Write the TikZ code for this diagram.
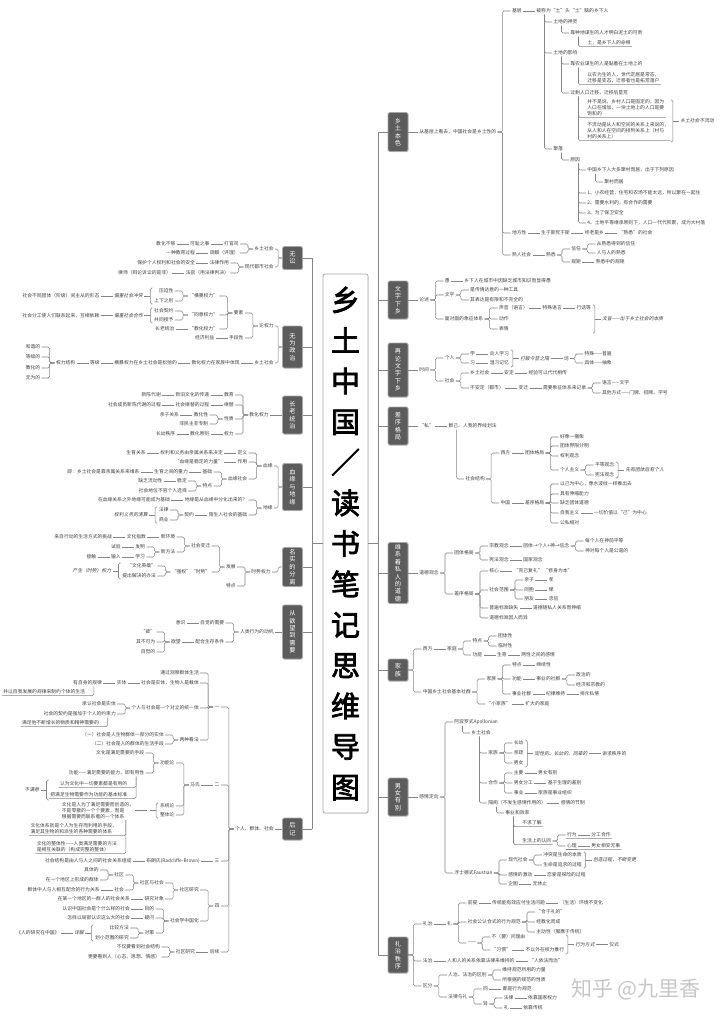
\documentclass[tikz,border=0pt]{standalone}
\usepackage{fontspec}
\setmainfont{Noto Sans CJK SC}
\newfontfamily\slf{Noto Sans CJK SC}[FakeSlant=0.2]
\newfontfamily\tfont{Noto Sans CJK SC}[FakeBold=2.5]
\usetikzlibrary{positioning,calc,shadows}
\definecolor{txt}{HTML}{404040}
\definecolor{lnc}{HTML}{858585}
\definecolor{cbf}{HTML}{5C5C5C}
\definecolor{cbd}{HTML}{A8A8A8}
\newcommand{\ft}{\fontsize{4.8}{5.9}\selectfont}
\tikzset{
 lnk/.style={draw=lnc,line width=0.55pt,rounded corners=1.5pt},
 tR/.style={anchor=west,font=\ft,text=txt,inner sep=1.2pt},
 tL/.style={anchor=east,font=\ft,text=txt,inner sep=1.2pt},
 tI/.style={font=\ft\slf},
 tP/.style={align=left,font=\fontsize{4.8}{6}\selectfont},
 cbox/.style={draw=cbd,line width=0.8pt,fill=cbf,rounded corners=1.5pt,text=white,font=\fontsize{6.2}{7.4}\selectfont,align=center,inner sep=0pt,minimum width=20pt,drop shadow={opacity=0.25,shadow xshift=0.7pt,shadow yshift=-0.7pt}},
}
% right-side child via bracket
\newcommand{\kR}[5][]{\path (#3.east) ++(13,0) coordinate (tmp); \node[tR,#1] (#2) at (tmp |- 0,#4) {#5}; \draw[lnk] (#3.east) -- ++(5,0) |- (#2.west);}
\newcommand{\kL}[5][]{\path (#3.west) ++(-13,0) coordinate (tmp); \node[tL,#1] (#2) at (tmp |- 0,#4) {#5}; \draw[lnk] (#3.west) -- ++(-5,0) |- (#2.east);}
% chains
\newcommand{\chR}[4][]{\node[tR,#1,right=12pt of #3] (#2) {#4}; \draw[lnk] (#3.east) -- (#2.west);}
\newcommand{\chL}[4][]{\node[tL,#1,left=12pt of #3] (#2) {#4}; \draw[lnk] (#3.west) -- (#2.east);}
% hanging children
\newcommand{\hR}[5][]{\path (#3.south west) ++(17,0) coordinate (tmp); \node[tR,#1] (#2) at (tmp |- 0,#4) {#5}; \draw[lnk] ([xshift=9.5pt]#3.south west) |- (#2.west);}
\newcommand{\hRU}[5][]{\path (#3.south west) ++(17,0) coordinate (tmp); \node[tR,#1] (#2) at (tmp |- 0,#4) {#5}; \draw[lnk] ([xshift=9.5pt]#3.south west) |- (#2.south east);}
\newcommand{\hLU}[5][]{\path (#3.south east) ++(-17,0) coordinate (tmp); \node[tL,#1] (#2) at (tmp |- 0,#4) {#5}; \draw[lnk] ([xshift=-9.5pt]#3.south east) |- (#2.south west);}
\newcommand{\nL}[4][]{\node[tL,#1] (#2) at #3 {#4};}
% summary braces
\newcommand{\sbRn}[6][]{\path (#2.east) ++(2.5,0) coordinate (tmp);
 \coordinate (ta) at (tmp |- 0,#3); \coordinate (tb) at (tmp |- 0,#4);
 \draw[lnk] ([xshift=-2pt]ta) -- (ta) -- (tb) -- ([xshift=-2pt]tb);
 \coordinate (tm) at ($(ta)!0.5!(tb)$);
 \node[tR,#1] (#5) at ([xshift=6pt]tm) {#6};
 \draw[lnk] (tm) -- (#5.west);}
\newcommand{\sbLn}[6][]{\path (#2.west) ++(-2.5,0) coordinate (tmp);
 \coordinate (ta) at (tmp |- 0,#3); \coordinate (tb) at (tmp |- 0,#4);
 \draw[lnk] ([xshift=2pt]ta) -- (ta) -- (tb) -- ([xshift=2pt]tb);
 \coordinate (tm) at ($(ta)!0.5!(tb)$);
 \node[tL,#1] (#5) at ([xshift=-6pt]tm) {#6};
 \draw[lnk] (tm) -- (#5.east);}
\begin{document}
\begin{tikzpicture}[x=1pt,y=-1pt]
\useasboundingbox (0,0) rectangle (720,1019);
\fill[white] (0,0) rectangle (720,1019);
% ---------- title and trunks ----------
\coordinate (trR) at (378,0);
\coordinate (trL) at (312,0);
\draw[lnk] (378,132) -- (378,955);
\draw[lnk] (312,258) -- (312,829);
\node[draw=cbd,line width=0.8pt,rounded corners=2pt,fill=white,minimum width=45pt,minimum height=539pt,inner sep=0pt,align=center,font=\fontsize{29}{40.6}\selectfont\tfont,text=black,drop shadow={opacity=0.15,shadow xshift=0.8pt,shadow yshift=-0.8pt}] (T) at (345.5,543.5) {乡\\土\\中\\国\\／\\读\\书\\笔\\记\\思\\维\\导\\图};
\draw[lnk] (T.east) -- (T.east -| trR);
\draw[lnk] (T.west) -- (T.west -| trL);
% ---------- category boxes ----------
\node[cbox,minimum height=39pt] (R1) at (398,132) {乡\\土\\本\\色};
\node[cbox,minimum height=38pt] (R2) at (398,300) {文\\字\\下\\乡};
\node[cbox,minimum height=54pt] (R3) at (398,370) {再\\论\\文\\字\\下\\乡};
\node[cbox,minimum height=38pt] (R4) at (398,426) {差\\序\\格\\局};
\node[cbox,minimum height=61pt] (R5) at (398,573) {维\\系\\着\\私\\人\\的\\道\\德};
\node[cbox,minimum height=22pt] (R6) at (398,670) {家\\族};
\node[cbox,minimum height=38pt] (R7) at (398,797) {男\\女\\有\\别};
\node[cbox,minimum height=36pt] (R8) at (398,955) {礼\\治\\秩\\序};
\foreach \b in {R1,R2,R3,R4,R5,R6,R7,R8} {\draw[lnk] (\b.west) -- (\b.west -| trR);}
\node[cbox,minimum height=23pt] (L1) at (292.5,258) {无\\讼};
\node[cbox,minimum height=42pt] (L2) at (292.5,347) {无\\为\\政\\治};
\node[cbox,minimum height=38pt] (L3) at (292.5,415) {长\\老\\统\\治};
\node[cbox,minimum height=47pt] (L4) at (292.5,487) {血\\缘\\与\\地\\缘};
\node[cbox,minimum height=39pt] (L5) at (292.5,567) {名\\实\\的\\分\\离};
\node[cbox,minimum height=54pt] (L6) at (292.5,632) {从\\欲\\望\\到\\需\\要};
\node[cbox,minimum height=22pt] (L7) at (292.5,829) {后\\记};
\foreach \b in {L1,L2,L3,L4,L5,L6,L7} {\draw[lnk] (\b.east) -- (\b.east -| trL);}
% ================= RIGHT: 乡土本色 =================
\node[tR] (a1) at (418,132) {从基层上看去，中国社会是乡土性的};
\draw[lnk] (R1.east) -- (a1.west);
\kR{b1}{a1}{11}{基层}
\chR{c1}{b1}{被称为“土”头“土”脑的乡下人}
\hR{d1}{c1}{22}{土地的神灵}
\hR{e1}{d1}{33}{靠种地谋生的人才明白泥土的可贵}
\hRU{f1}{e1}{43}{土，是乡下人的命根}
\hR{d2}{c1}{53}{土地的影响}
\hR{e2}{d2}{64}{靠农业谋生的人是黏着在土地上的}
\hRU[tP]{f2}{e2}{78}{以农为生的人，世代定居是常态，\\迁移是变态，迁移者也是拓荒落户}
\hR{e3}{d2}{93}{过剩人口迁移，迁移后垦荒}
\hRU[tP]{f3}{e3}{108}{并不是说，乡村人口是固定的，因为\\人口在增加，一块土地上的人口是要\\饱和的}
\hRU[tP]{f4}{e3}{131}{不流动是从人和空间的关系上来说的，\\从人和人在空间的排列关系上（村与\\村的关系上）}
\sbRn[tI]{f4}{100}{142}{g1}{乡土社会不流动}
\hR{d3}{c1}{149}{聚落}
\hR{e4}{d3}{160}{原因}
\hR{f5}{e4}{170}{中国乡下人大多聚村而居，出于下列原因}
\hR{f6}{f5}{182}{聚村而居}
\hR{f7}{e4}{193}{1、小农经营，住宅和农场不能太远，所以聚在一起住}
\hR{f8}{e4}{203}{2、需要水利的，有合作的需要}
\hR{f9}{e4}{213}{3、为了保卫安全}
\hR{f10}{e4}{223}{4、土地平等继承原则下，人口一代代积累，成为大村落}
\kR{b2}{a1}{233}{地方性}
\chR{c2}{b2}{生于斯死于斯}
\chR{c3}{c2}{终老是乡}
\chR{c4}{c3}{“熟悉”的社会}
\kR{b3}{a1}{255}{熟人社会}
\chR{c5}{b3}{熟悉}
\kR{c6}{c5}{249}{信任}
\kR{c7}{c6}{244}{从熟悉得到的信任}
\kR{c8}{c6}{253}{人与人的熟悉}
\kR{c9}{c5}{262}{规矩}
\chR{c10}{c9}{熟悉中的规矩}
% ================= 文字下乡 =================
\node[tR] (a2) at (418,300) {论述};
\draw[lnk] (R2.east) -- (a2.west);
\kR{b4}{a2}{281}{愚}
\chR{c11}{b4}{乡下人在城市中因缺乏城市知识而显得愚}
\kR{b5}{a2}{295}{文字}
\kR{c12}{b5}{290}{是传情达意的一种工具}
\kR{c13}{b5}{300}{其表达是有限和不完全的}
\kR{b6}{a2}{319}{面对面的象征体系}
\kR{c14}{b6}{308}{声音（语言）}
\chR{c15}{c14}{特殊语言}
\chR{c16}{c15}{行话等}
\kR{c17}{b6}{319}{动作}
\kR{c18}{b6}{329}{表情}
\sbRn[tI]{c16}{305}{333}{c19}{文盲——出于乡土社会的本质}
% ================= 再论文字下乡 =================
\node[tR] (a3) at (418,370) {时间};
\draw[lnk] (R3.east) -- (a3.west);
\kR{b7}{a3}{358}{个人}
\kR{c20}{b7}{354}{学}
\chR{c21}{c20}{向人学习}
\kR{c22}{b7}{363}{习}
\chR{c23}{c22}{温习记忆}
\sbRn[tI]{c21}{350}{367}{c24}{打破今昔之隔}
\chR{c25}{c24}{词}
\kR{c26}{c25}{354}{特殊——普遍}
\kR{c27}{c25}{363}{具体——抽象}
\kR{b8}{a3}{381}{社会}
\kR{c28}{b8}{373}{乡土社会}
\chR{c29}{c28}{安定}
\chR{c30}{c29}{经验可以代代相传}
\kR{c31}{b8}{388}{不安定（都市）}
\chR{c32}{c31}{变迁}
\chR{c33}{c32}{需要象征体系来记录}
\kR{c34}{c33}{383}{语言——文字}
\kR{c35}{c33}{393}{其他方式——门牌、招牌、字号}
% ================= 差序格局 =================
\node[tR] (a4) at (418,426) {“私”};
\draw[lnk] (R4.east) -- (a4.west);
\chR{b9}{a4}{群己、人我的界线划法}
\hR{c36}{b9}{479}{社会结构}
\kR{c37}{c36}{453}{西方}
\chR{c38}{c37}{团体格局}
\kR{c39}{c38}{437}{好像一捆柴}
\kR{c40}{c38}{446}{团体界限分明}
\kR{c41}{c38}{456}{权利观念}
\kR{c42}{c38}{470}{个人主义}
\kR{c43}{c42}{465}{平等观念}
\kR{c44}{c42}{475}{宪法观念}
\sbRn[tI]{c43}{462}{478}{c45}{先有团体后有个人}
\kR{c46}{c36}{503}{中国}
\chR{c47}{c46}{差序格局}
\kR{c48}{c47}{484}{以己为中心，像水波纹一样推出去}
\kR{c49}{c47}{494}{具有伸缩能力}
\kR{c50}{c47}{503}{缺乏团体道德}
\kR{c51}{c47}{513}{自我主义}
\chR{c52}{c51}{一切价值以“己”为中心}
\kR{c53}{c47}{523}{公私相对}
% ================= 维系着私人的道德 =================
\node[tR] (a5) at (418,573) {道德观念};
\draw[lnk] (R5.east) -- (a5.west);
\kR{b10}{a5}{553}{团体格局}
\kR{c54}{b10}{546}{宗教观念}
\chR{c55}{c54}{团体→个人+神→信念}
\kR{c56}{c55}{541}{每个人在神前平等}
\kR{c57}{c55}{551}{神对每个人是公道的}
\kR{c58}{b10}{560}{宪法观念}
\chR{c59}{c58}{国家观念}
\kR{b11}{a5}{594}{差序格局}
\kR{c60}{b11}{571}{核心}
\chR{c61}{c60}{“克己复礼” “修身为本”}
\kR{c62}{b11}{590}{社会范围}
\kR{c63}{c62}{580}{亲子} \chR{c64}{c63}{孝}
\kR{c65}{c62}{590}{同胞} \chR{c66}{c65}{悌}
\kR{c67}{c62}{599}{朋友} \chR{c68}{c67}{忠信}
\kR{c69}{b11}{608}{普遍标准缺失}
\chR{c70}{c69}{道德随私人关系而伸缩}
\kR{c71}{b11}{618}{道德标准因人而异}
% ================= 家族 =================
\kR{b12}{R6}{649}{西方}
\chR{c72}{b12}{家庭}
\kR{c73}{c72}{641}{特点}
\kR{c74}{c73}{636}{团体性}
\kR{c75}{c73}{646}{临时性}
\kR{c76}{c72}{655}{功能}
\chR{c77}{c76}{生育}
\chR{c78}{c77}{两性之间的感情}
\kR{b13}{R6}{692}{中国乡土社会基本社群}
\kR{c79}{b13}{679}{家族}
\kR{c80}{c79}{665}{特点} \chR{c81}{c80}{绵续性}
\kR{c82}{c79}{679}{功能} \chR{c83}{c82}{事业的社群}
\kR{c84}{c83}{675}{政治的}
\kR{c85}{c83}{685}{经济和宗教的}
\kR{c86}{c79}{694}{事业社群} \chR{c87}{c86}{纪律维持} \chR{c88}{c87}{排斥私情}
\kR{c89}{b13}{704}{“小家族”} \chR{c90}{c89}{扩大的家庭}
% ================= 男女有别 =================
\node[tR] (a7) at (418,797) {感情定向};
\draw[lnk] (R7.east) -- (a7.west);
\kR{b14}{a7}{722}{阿波罗式Apollonian}
\kR{b15}{a7}{873}{浮士德式Faustian}
\hR{c91}{b14}{733}{乡土社会}
\hR{c92}{c91}{753}{家族}
\kR{c93}{c92}{743}{长幼}
\kR{c94}{c92}{753}{亲疏}
\kR{c95}{c92}{763}{男女}
\sbRn[tI]{c93}{740}{767}{c96}{同性的、长幼的、同辈的}
\chR{c97}{c96}{讲求秩序的}
\hR{c98}{c91}{783}{合作}
\kR{c99}{c98}{773}{主要} \chR{c100}{c99}{男女有别}
\kR{c101}{c98}{783}{男女分工} \chR{c102}{c101}{基于生理的差别}
\kR{c103}{c98}{793}{事业} \chR{c104}{c103}{家族是事业组织}
\hR{c105}{c91}{803}{隔阂（不发生感情作用的）}
\chR{c106}{c105}{感情的节制}
\hR{c107}{c105}{813}{事业和效率}
\hRU{c108}{c107}{823}{不求了解}
\hRU{c109}{c107}{841}{生活上的认同}
\kR{c110}{c109}{835}{行为} \chR{c111}{c110}{分工合作}
\kR{c112}{c109}{846}{心理} \chR{c113}{c112}{男女相安无事}
\draw[lnk] (c110.south west) -- (c111.south east);
\draw[lnk] (c112.south west) -- (c113.south east);
\kR{c114}{b15}{860}{现代社会}
\kR{c115}{c114}{855}{冲突是生命的本质}
\kR{c116}{c114}{865}{生命是追求的过程}
\sbRn[tI]{c115}{852}{868}{c117}{创造过程，不断变更}
\kR{c118}{b15}{875}{感情的激动} \chR{c119}{c118}{恋爱是探险的过程}
\kR{c120}{b15}{884}{企图} \chR{c121}{c120}{无休止}
% ================= 礼治秩序 =================
\kR{b16}{R8}{924}{礼治}
\chR{c122}{b16}{礼}
\kR{c123}{c122}{903}{前提}
\chR{c124}{c123}{传统能有效应付生活问题}
\chR{c125}{c124}{（生活）环境不变化}
\kR{c126}{c122}{922}{社会公认合式的行为规范}
\kR{c127}{c126}{912}{“合于礼的”}
\kR{c128}{c126}{922}{经教化而成}
\kR{c129}{c126}{932}{主动性（服膺于传统）}
\kR{c130}{c122}{943}{——}
\kR{c131}{c130}{937}{不（要）问理由}
\kR{c132}{c130}{950}{“习惯”} \chR{c133}{c132}{不以外在权力推行}
\sbRn[tI]{c133}{935}{954}{c134}{行为方式}
\chR{c135}{c134}{仪式}
\kR{b17}{R8}{961}{法治}
\chR{c136}{b17}{人和人的关系依靠法律来维持的}
\chR{c137}{c136}{“人依法而治”}
\kR{b18}{R8}{986}{区分}
\kR{c138}{b18}{975}{人治、法治的区别}
\kR{c139}{c138}{970}{维持规范所用的力量}
\kR{c140}{c138}{980}{所根据的规范的性质}
\kR{c141}{b18}{997}{法律与礼}
\kR{c142}{c141}{989}{同} \chR{c143}{c142}{都是行为规范}
\kR{c144}{c141}{1004}{异}
\kR{c145}{c144}{998}{法律} \chR{c146}{c145}{依靠国家权力}
\kR{c147}{c144}{1008}{礼} \chR{c148}{c147}{依靠传统}
\node[text=black!22,font=\fontsize{21}{21}\selectfont,inner sep=0pt] (wm) at (636,989) {知乎 @九里香};
% ================= LEFT: 无讼 =================
\nL{m1}{(275,249)}{乡土社会} \draw[lnk] (L1.west) -- ++(-4,0) |- (m1.east);
\nL{m2}{(275,267)}{现代都市社会} \draw[lnk] (L1.west) -- ++(-4,0) |- (m2.east);
\kL{m3}{m1}{244}{打官司} \chL{m4}{m3}{可耻之事} \chL{m5}{m4}{教化不够}
\kL{m6}{m1}{253}{调解（评理）} \chL{m7}{m6}{一种教育过程}
\kL{m8}{m2}{263}{法律作用} \chL{m9}{m8}{保护个人权利和社会的安全}
\kL{m10}{m2}{273}{法官（用法律判决）} \chL{m11}{m10}{律师（辩论诉讼的是非）}
% ================= 无为政治 =================
\nL{n1}{(275,326)}{论权力} \draw[lnk] (L2.west) -- ++(-4,0) |- (n1.east);
\nL{n2}{(275,363)}{乡土社会} \draw[lnk] (L2.west) -- ++(-4,0) |- (n2.east);
\kL{n3}{n1}{313}{要素}
\kL{n4}{n1}{338}{手段性} \chL{n5}{n4}{经济利益}
\kL{n6}{n3}{296}{“横暴权力”}
\kL{n7}{n3}{315}{“同意权力”}
\kL{n8}{n3}{329}{“教化权力”} \chL{n9}{n8}{长老统治}
\kL{n10}{n6}{291}{压迫性}
\kL{n11}{n6}{301}{上下之别}
\sbLn[tI]{n11}{288}{304}{n12}{偏重社会冲突}
\chL{n13}{n12}{社会不同团体（阶级）间主从的形态}
\kL{n14}{n7}{311}{社会契约}
\kL{n15}{n7}{320}{共同授予}
\sbLn[tI]{n14}{308}{323}{n16}{偏重社会合作}
\chL{n17}{n16}{社会分工使人们联系起来，互相依赖}
\chL{n18}{n2}{教化权力在家族中体现}
\chL{n19}{n18}{横暴权力在乡土社会是松弛的}
\chL{n20}{n19}{等级}
\chL{n21}{n20}{权力结构}
\kL{n22}{n21}{347}{和谐的} \kL{n23}{n21}{357}{等级的}
\kL{n24}{n21}{368}{教化的} \kL{n25}{n21}{378}{无为的}
% ================= 长老统治 =================
\nL{o1}{(270,415)}{教化权力} \draw[lnk] (L3.west) -- (o1.east);
\kL{o2}{o1}{395}{教育} \chL{o3}{o2}{新旧文化的传递} \chL{o4}{o3}{新陈代谢}
\kL{o5}{o1}{405}{继替} \chL{o6}{o5}{社会继替的过程} \chL{o7}{o6}{社会成员新陈代谢的过程}
\kL{o8}{o1}{419}{性质}
\kL{o9}{o8}{415}{教化性} \chL{o10}{o9}{亲子关系}
\kL{o11}{o8}{424}{非民主非专制}
\kL{o12}{o1}{434}{权力} \chL{o13}{o12}{教化原则} \chL{o14}{o13}{长幼秩序}
% ================= 血缘与地缘 =================
\nL{p1}{(274,466)}{血缘} \draw[lnk] (L4.west) -- ++(-4,0) |- (p1.east);
\nL{p2}{(274,508)}{地缘} \draw[lnk] (L4.west) -- ++(-4,0) |- (p2.east);
\kL{p3}{p1}{453}{定义} \chL{p4}{p3}{权利和义务由亲属关系来决定} \chL{p5}{p4}{生育关系}
\kL{p6}{p1}{462}{作用} \chL{p7}{p6}{“血缘是稳定的力量”}
\kL{p8}{p1}{479}{血缘社会}
\kL{p9}{p8}{472}{基础} \chL{p10}{p9}{生育之间的重力} \chL{p11}{p10}{即：乡土社会是靠亲属关系来维系}
\kL{p12}{p8}{486}{特点}
\kL{p13}{p12}{481}{稳定} \chL{p14}{p13}{缺乏流动性}
\kL{p15}{p12}{491}{社会地位不容个人选择}
\kL{p16}{p2}{500}{地缘是从血缘中分化出来的？} \chL{p17}{p16}{在血缘关系之外地缘可能成为基础}
\kL{p18}{p2}{515}{陌生人社会的基础} \chL{p19}{p18}{契约}
\kL{p20}{p19}{510}{法律} \kL{p21}{p19}{520}{商业}
\sbLn[tI]{p20}{507}{523}{p22}{权利义务的清算}
% ================= 名实的分离 =================
\nL{q1}{(272,572)}{时势权力} \draw[lnk] (L5.west) -- ++(-4,0) |- (q1.east);
\kL{q2}{q1}{567}{发展}
\kL{q3}{q1}{586}{特点}
\kL{q4}{q2}{546}{社会变迁}
\kL{q5}{q2}{572}{“强权”“时势”}
\kL{q6}{q4}{537}{新环境} \chL{q7}{q6}{文化指数} \chL{q8}{q7}{来自行动的生活方式的挑战}
\kL{q9}{q4}{552}{新方法}
\kL{q10}{q9}{547}{发明} \chL{q11}{q10}{试验}
\kL{q12}{q9}{557}{学习} \chL{q13}{q12}{输入} \chL{q14}{q13}{接触}
\kL{q15}{q5}{566}{“文化英雄”}
\kL{q16}{q5}{576}{提出解决的办法}
\sbLn[tI]{q16}{563}{579}{q17}{产生（时势）权力}
% ================= 从欲望到需要 =================
\nL{s1}{(275,632)}{人类行为的动机} \draw[lnk] (L6.west) -- (s1.east);
\kL{s2}{s1}{623}{自觉的需要} \chL{s3}{s2}{意识}
\kL{s4}{s1}{642}{配合生存条件} \chL{s5}{s4}{欲望}
\kL{s6}{s5}{632}{“欲”} \kL{s7}{s5}{642}{其不可为} \kL{s8}{s5}{652}{自觉的}
% ================= 后记 =================
\nL{u1}{(275,829)}{个人、群体、社会} \draw[lnk] (L7.west) -- (u1.east);
\kL{u2}{u1}{707}{一}
\kL{u3}{u1}{785}{二}
\kL{u4}{u1}{861}{三}
\kL{u5}{u1}{906}{四}
\kL{u6}{u1}{952}{后续}
\kL{v1}{u2}{673}{通过观察群体生活}
\kL{v2}{u2}{683}{社会是实体，生物人是载体} \chL{v3}{v2}{实体} \chL{v4}{v3}{有自身的规律}
\hLU{v5}{v4}{692}{并以自我发展的规律来制约个体的生活}
\kL{v6}{u2}{708}{个人与社会是一个对立的统一体}
\kL{v7}{v6}{704}{承认社会是实体}
\kL{v8}{v6}{714}{社会的契约是强加于个人的约束力}
\hLU{v9}{v8}{723}{满足他不断增长的物质和精神需要的}
\kL{v10}{u2}{740}{两种看法}
\kL{v11}{v10}{735}{（一）社会是人生物群体一部分的实体}
\kL{v12}{v10}{744}{（二）社会是人的群体的生活手段}
\chL{w1}{u3}{马氏}
\kL{w2}{w1}{763}{功能论}
\kL{w3}{w1}{806}{系统论}
\kL{w4}{w1}{815}{整体论}
\kL{w5}{w2}{753}{文化是满足需要的手段}
\kL{w6}{w2}{773}{功能——满足需要的能力，即有用性}
\hLU{w8}{w6}{784}{认为文化中一切要素都是有用的}
\hLU{w9}{w6}{795}{把满足生物需要作为功能的基本标准}
\sbLn[tI]{w9}{780}{800}{w10}{不满意}
\sbLn{w3}{803}{818}{w11}{}
\chL[tP]{w12}{w11}{文化是人为了满足需要而创造的，\\不是零散的一个个要素，而是\\根据需要而联系着的一个体系}
\hLU[tP]{w13}{w12}{829}{文化体系就是个人为生存而利用的手段，\\满足其生物的和派生的各种需要的体系}
\hLU[tP]{w14}{w12}{847}{文化的整体性——人类满足需要的方法\\是相互关联的（构成完整的整体）}
\chL{x1}{u4}{布朗氏(Radcliffe-Brown)}
\chL{x2}{x1}{社会结构是由人与人之间的社会关系组成}
\kL{y1}{u5}{890}{社区研究}
\kL{y2}{u5}{921}{社会学中国化}
\kL{y3}{y1}{883}{社区与社会}
\kL{y4}{y1}{899}{研究对象} \chL{y5}{y4}{在某一个地区的一群人的社会关系}
\kL{y6}{y3}{875}{社区}
\kL{y7}{y3}{890}{社会} \chL{y8}{y7}{群体中人与人相互配合的行为关系}
\kL{y9}{y6}{870}{具体的} \kL{y10}{y6}{880}{在一个地区上形成的群体}
\kL{y11}{y2}{909}{目的} \chL{y12}{y11}{认识中国社会是个什么样的社会}
\kL{y13}{y2}{918}{疑问} \chL{y14}{y13}{怎样以局部认识这么大的社会}
\kL{y15}{y2}{933}{对策}
\kL{y16}{y15}{928}{比较方法} \kL{y17}{y15}{938}{划小范围的研究}
\sbLn[tI]{y17}{925}{941}{y18}{详解}
\chL{y19}{y18}{《人的研究在中国》}
\chL{z1}{u6}{社区研究}
\kL{z2}{z1}{947}{不仅要看到社会结构}
\kL{z3}{z1}{957}{更要看到人（心态、思想、情感）}
\end{tikzpicture}
\end{document}
